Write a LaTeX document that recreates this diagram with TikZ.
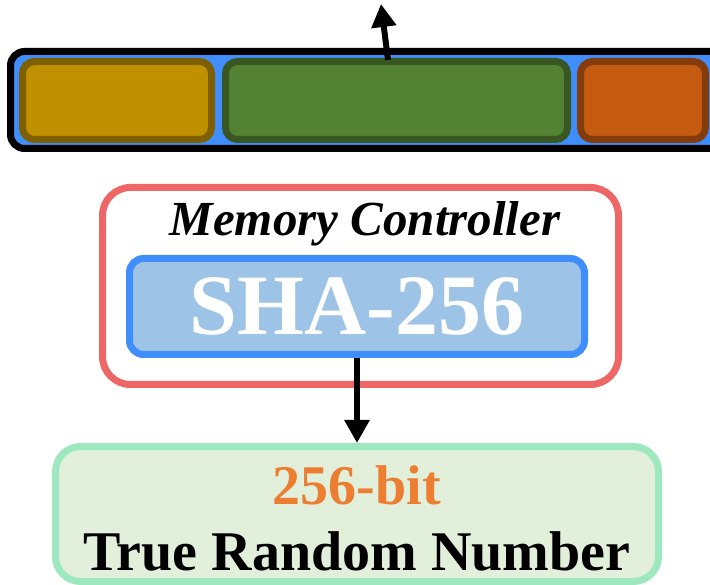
\documentclass[tikz,border=0pt]{standalone}
\usepackage{fontspec}
\setmainfont{Liberation Serif}
\usetikzlibrary{arrows.meta}
\definecolor{barblue}{HTML}{3F8EFC}
\definecolor{keyfill}{HTML}{BF9000}
\definecolor{keyline}{HTML}{7F6000}
\definecolor{datafill}{HTML}{548235}
\definecolor{dataline}{HTML}{385723}
\definecolor{eccfill}{HTML}{C55A11}
\definecolor{eccline}{HTML}{843C0C}
\definecolor{ctrlred}{HTML}{EE6666}
\definecolor{shafill}{HTML}{9DC3E6}
\definecolor{rngline}{HTML}{9DE8BF}
\definecolor{rngfill}{HTML}{E2EFDA}
\definecolor{bitorange}{HTML}{ED7D31}
\tikzset{
  field/.style={draw=#1line, fill=#1fill, line width=7pt, rounded corners=12pt,
    inner sep=0pt, minimum height=78pt},
  bigbox/.style={line width=7pt, inner sep=0pt},
  arr/.style={line width=6pt, -{Triangle[length=23pt,width=24pt]}}
}

\begin{document}
\begin{tikzpicture}[x=1pt,y=-1pt]
\useasboundingbox (0,0) rectangle (710,585);
\clip (0,0) rectangle (710,585);
% memory row
\filldraw [barblue, draw=black, line width=7pt, rounded corners=14pt] (10.5,51.5) rectangle (760,148.5);
\node[field=key, minimum width=189pt] (key) at (117,100.5) {};
\node[field=data, minimum width=342pt] (data) at (396.5,100.5) {};
\node[field=ecc, minimum width=125pt] (ecc) at (643,100.5) {};
\coordinate (up) at (381,4);
\draw[arr] ([xshift=-8.5pt,yshift=-2pt]data.north) -- (up);
% controller
\node[bigbox, draw=ctrlred, rounded corners=28pt, minimum width=516pt, minimum height=197pt] (ctrl) at (360.5,286) {};
\node[font=\fontsize{49}{56}\selectfont\bfseries\itshape] (ctrllabel) at (365,224) {Memory Controller};
\node[bigbox, draw=barblue, fill=shafill, rounded corners=14pt, minimum width=455pt, minimum height=96pt,
  text=white, font=\fontsize{86}{90}\selectfont\bfseries] (sha) at (357,306.5) {SHA-256};
% output
\node[bigbox, draw=rngline, fill=rngfill, rounded corners=25pt, minimum width=603pt, minimum height=135pt] (trng) at (357,514) {};
\node[align=center, font=\fontsize{56}{66}\selectfont\bfseries] (trnglabel) at (357,518) {\textcolor{bitorange}{256-bit}\\True Random Number};
\draw[arr] (sha.south) -- (trng.north);
\end{tikzpicture}
\end{document}
